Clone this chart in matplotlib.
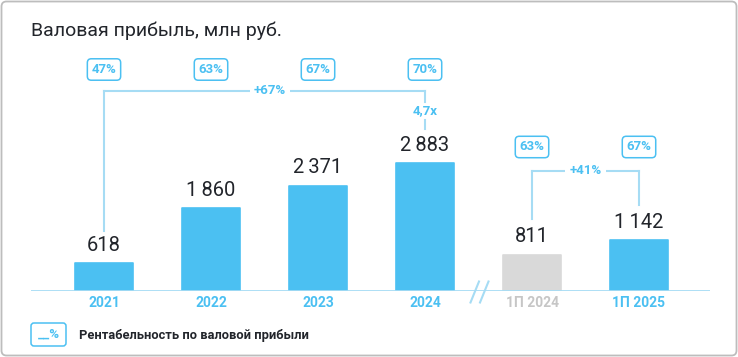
import matplotlib
matplotlib.use("Agg")
import matplotlib.pyplot as plt
from matplotlib import transforms
from matplotlib.patches import FancyBboxPatch
from matplotlib.lines import Line2D

categories = ["2021", "2022", "2023", "2024", "1П 2024", "1П 2025"]
values = [618, 1860, 2371, 2883, 811, 1142]
value_labels = ["618", "1\u2009860", "2\u2009371", "2\u2009883", "811", "1\u2009142"]
margins = ["47%", "63%", "67%", "70%", "63%", "67%"]
growth_fy = "+67%"
growth_fy_mult = "4,7x"
growth_h1 = "+41%"
title = "Валовая прибыль, млн руб."
legend_text = "Рентабельность по валовой прибыли"

BLUE = "#4bc0f2"
LINE = "#a6dcf4"
GRAY_BAR = "#d9d9d9"
GRAY_TXT = "#c6c6c6"
DARK = "#22252b"
FONT = ["Roboto", "DejaVu Sans"]
plt.rcParams["font.family"] = FONT

W, H = 738, 357
fig = plt.figure(figsize=(W / 100, H / 100), dpi=100)

# pixel overlay
axp = fig.add_axes([0, 0, 1, 1], zorder=0)
axp.set_xlim(0, W)
axp.set_ylim(H, 0)
axp.axis("off")
axp.add_patch(FancyBboxPatch((1.5, 1.5), W - 3, H - 3, boxstyle="round,pad=0,rounding_size=5",
                             fc="white", ec="#bdbdbd", lw=1.3))
axp.text(31, 31, title, fontsize=14, color=DARK, va="center", ha="left")

# bar axes
left_px, right_px, base_px, top_px = 31, 710, 290.5, 40
x0_px, step_px = 104, 107
ax = fig.add_axes([left_px / W, (H - base_px) / H, (right_px - left_px) / W, (base_px - top_px) / H],
                  zorder=1)
ax.patch.set_alpha(0)
xs = list(range(len(categories)))
ax.set_xlim((left_px - x0_px) / step_px, (len(categories) - 1) + (right_px - (x0_px + 5 * step_px)) / step_px)
ax.set_ylim(0, (base_px - top_px) * 22.6)
for s in ax.spines.values():
    s.set_visible(False)
ax.set_xticks([])
ax.set_yticks([])

colors = [BLUE, BLUE, BLUE, BLUE, GRAY_BAR, BLUE]
bars = ax.bar(xs, values, width=0.54, color=colors, edgecolor=colors, linewidth=1.2,
              joinstyle="round", zorder=2)
ax.axhline(0, color=LINE, lw=2, zorder=3)

for x, v, lab in zip(xs, values, value_labels):
    ax.annotate(lab, (x, v), xytext=(0, 6), textcoords="offset points", ha="center", va="bottom",
                fontsize=14.5, color=DARK)

# category labels
bt = transforms.blended_transform_factory(ax.transData, axp.transData)
for x, c in zip(xs, categories):
    ax.text(x, 303, c, transform=bt, ha="center", va="center", fontsize=10, fontweight="bold",
            color=GRAY_TXT if c == "1П 2024" else BLUE, clip_on=False)

# break marks
for dx in (0, 9.5):
    axp.add_line(Line2D([470.5 + dx, 479 + dx], [302.5, 281.5], color=LINE, lw=1.5))

def pct_box(x, y, s):
    ax.text(x, y, s, transform=bt, ha="center", va="center", fontsize=9.5, fontweight="bold",
            color=BLUE, clip_on=False,
            bbox=dict(boxstyle="round,pad=0.32,rounding_size=0.3", fc="white", ec=BLUE, lw=1.1))

for x, m in zip(xs[:4], margins[:4]):
    pct_box(x, 69.5, m)
for x, m in zip(xs[4:], margins[4:]):
    pct_box(x, 147, m)

def vline(x, y1, y2):
    ax.plot([x, x], [y1, y2], transform=bt, color=LINE, lw=1.5, clip_on=False, zorder=1)

def hline(x1, x2, y):
    ax.plot([x1, x2], [y, y], transform=bt, color=LINE, lw=1.5, clip_on=False, zorder=1)

# FY bracket
yb = 91
hline(0, 3, yb)
vline(0, yb, 231)
vline(3, yb, 102)
vline(3, 120, 129)
ax.text(1.55, yb, growth_fy, transform=bt, ha="center", va="center", fontsize=9.5, fontweight="bold",
        color=BLUE, clip_on=False, bbox=dict(boxstyle="square,pad=0.3", fc="white", ec="none"))
ax.text(3, 111, growth_fy_mult, transform=bt, ha="center", va="center", fontsize=9.5,
        fontweight="bold", color=BLUE, clip_on=False)

# H1 bracket
yb2 = 171
hline(4, 5, yb2)
vline(4, yb2, 219)
vline(5, yb2, 205)
ax.text(4.5, yb2, growth_h1, transform=bt, ha="center", va="center", fontsize=9.5, fontweight="bold",
        color=BLUE, clip_on=False, bbox=dict(boxstyle="square,pad=0.3", fc="white", ec="none"))

# legend
axp.add_patch(FancyBboxPatch((31, 323), 35, 23, boxstyle="round,pad=0,rounding_size=3",
                             fc="white", ec=BLUE, lw=1.1))
axp.text(48.5, 334, "__%", ha="center", va="center", fontsize=9.5, fontweight="bold", color=BLUE)
axp.text(79, 335, legend_text, ha="left", va="center", fontsize=9.3, fontweight="bold", color=DARK)

fig.savefig("out.png", dpi=100)
